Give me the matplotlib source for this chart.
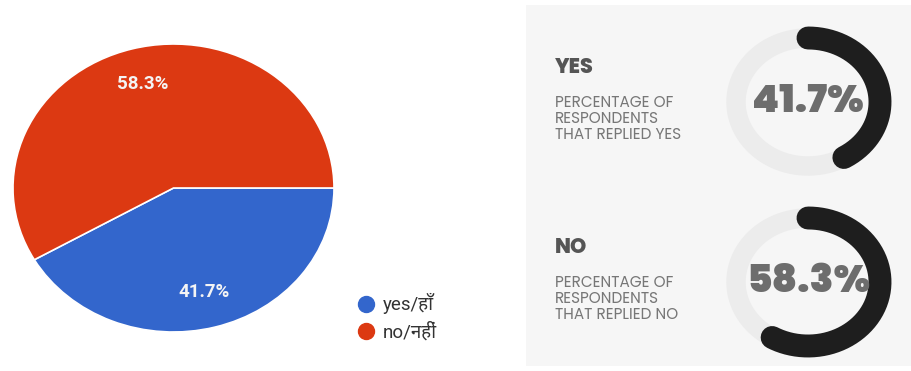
import numpy as np
import matplotlib
matplotlib.use("Agg")
import matplotlib.pyplot as plt
from matplotlib.lines import Line2D
from matplotlib.patches import Rectangle
from matplotlib.font_manager import FontProperties

# survey answers
answers = ["yes/हाँ", "no/नहीं"]
shares = [41.7, 58.3]
answer_colors = ["#3366cc", "#dc3912"]

# gauge cards on the right
card_titles = ["YES", "NO"]
card_notes = ["PERCENTAGE OF\nRESPONDENTS\nTHAT REPLIED YES",
              "PERCENTAGE OF\nRESPONDENTS\nTHAT REPLIED NO"]

W, H = 912, 371
ui_font = ["Roboto", "Noto Sans Devanagari UI", "DejaVu Sans"]
card_font = ["Poppins", "DejaVu Sans"]


def px_box(x0, y0, x1, y1):
    """pixel box (top-left origin) -> figure fraction rect"""
    return [x0 / W, (H - y1) / H, (x1 - x0) / W, (y1 - y0) / H]


fig = plt.figure(figsize=(W / 100, H / 100), dpi=100)
fig.patch.set_facecolor("white")

# --- pie (slightly squashed, like the source export) ---
ax = fig.add_axes(px_box(13, 44, 334, 332))
wedges, _, autotexts = ax.pie(shares, colors=answer_colors, startangle=0,
                              counterclock=False, radius=1,
                              autopct="%1.1f%%", pctdistance=0.75,
                              wedgeprops=dict(edgecolor="white", linewidth=1.2),
                              textprops=dict(color="#f4f4f4", fontsize=13.5,
                                             fontweight="bold", family=ui_font))
ax.set_aspect("auto")
ax.set_xlim(-1, 1)
ax.set_ylim(-1, 1)
ax.axis("off")

handles = [Line2D([], [], marker="o", linestyle="none", markersize=11.5,
                  markerfacecolor=c, markeredgecolor=c) for c in answer_colors]
fig.legend(handles, answers, loc="upper left", bbox_to_anchor=(357 / W, 1 - 293 / H),
           frameon=False, borderpad=0, borderaxespad=0, handlelength=0.95,
           handletextpad=0.4, labelspacing=0.42, labelcolor="#333333",
           prop=FontProperties(family=ui_font, size=13.5))

# --- right-hand card panel ---
fig.add_artist(Rectangle((526 / W, 5 / H), 1 - 526 / W, 361 / H,
                         transform=fig.transFigure, facecolor="#f6f6f6",
                         edgecolor="none", zorder=0))

card_y = [102, 282]
for title, note, val, cy in zip(card_titles, card_notes, shares, card_y):
    fig.text(555 / W, 1 - (cy - 34) / H, title, fontsize=15, fontweight="heavy",
             color="#555555", family=card_font, va="center", ha="left")
    fig.text(555 / W, 1 - (cy - 7) / H, note, fontsize=11, color="#777777",
             family=card_font, va="top", ha="left", linespacing=1.0)

    gx = fig.add_axes(px_box(808 - 72, cy - 64, 808 + 72, cy + 64))
    gx.set_xlim(-1, 1)
    gx.set_ylim(-1, 1)
    gx.axis("off")
    ring = np.linspace(0, 2 * np.pi, 300)
    gx.plot(np.cos(ring), np.sin(ring), color="#ececec", lw=14, clip_on=False,
            solid_capstyle="butt", zorder=1)
    # arc runs clockwise from twelve o'clock
    theta = np.radians(np.linspace(90, 90 - 360 * val / 100, 300))
    gx.plot(np.cos(theta), np.sin(theta), color="#1e1e1e", lw=16.5, clip_on=False,
            solid_capstyle="round", zorder=2)
    gx.text(0, 0, f"{val:.1f}%", fontsize=28, fontweight="black", color="#6d6d6d",
            family=card_font, ha="center", va="center", zorder=3)

fig.savefig("out.png", dpi=100)
